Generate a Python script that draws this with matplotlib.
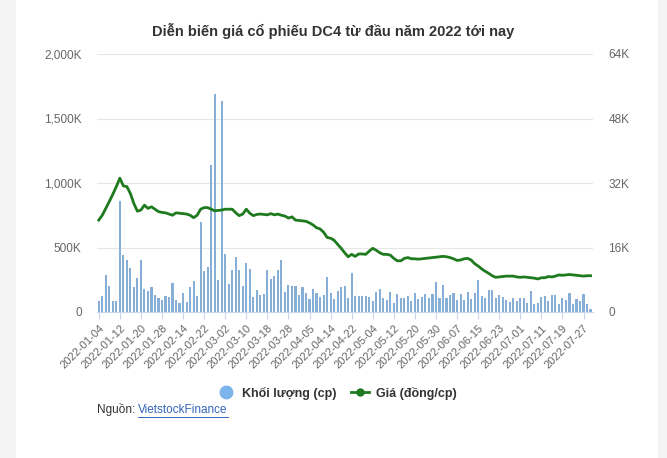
import matplotlib
matplotlib.use("Agg")
import matplotlib.pyplot as plt
from matplotlib.lines import Line2D
from matplotlib.patches import Rectangle
from matplotlib.ticker import FuncFormatter, MultipleLocator
import numpy as np
import pandas as pd

plt.rcParams["font.family"] = ["Liberation Sans", "DejaVu Sans"]

# ─── Data ─────────────────────────────────────────────────────────────────────
# trading days (weekdays minus market holidays)
holidays = ["2022-01-31", "2022-02-01", "2022-02-02", "2022-02-03", "2022-02-04",
            "2022-04-11", "2022-05-02", "2022-05-03"]
dates = pd.bdate_range("2022-01-04", "2022-07-29")
dates = dates[~dates.isin(pd.to_datetime(holidays))]
date_labels = [d.strftime("%Y-%m-%d") for d in dates]

# volume, thousand shares
volume = [
    83, 122, 285, 200, 83, 83, 860,
    440, 400, 340, 192, 262, 400,
    176, 163, 192, 130, 109, 93,
    122, 114, 223, 91, 67, 145,
    75, 192, 238, 122, 700, 319,
    345, 1140, 1692, 246, 1637, 448,
    215, 324, 425, 324, 200, 378,
    332, 114, 168, 130, 137, 324,
    254, 277, 324, 402, 153, 207,
    200, 200, 130, 192, 145, 98,
    176, 145, 114, 130, 270, 145,
    98, 160, 192, 200, 106, 300,
    122, 122, 127, 127, 117, 83,
    158, 176, 106, 91, 158, 73,
    137, 106, 111, 122, 83, 145,
    98, 119, 137, 106, 137, 230,
    106, 212, 106, 132, 148, 91,
    137, 91, 158, 98, 150, 246,
    122, 106, 168, 168, 106, 130,
    117, 91, 75, 111, 83, 109,
    106, 67, 160, 65, 67, 117,
    122, 83, 130, 130, 65, 106,
    91, 148, 60, 98, 86, 142,
    60, 23,
]

# price, thousand dong
price = [
    22.8, 24.0, 25.7, 27.4, 29.2, 31.1, 33.2,
    31.3, 31.1, 29.4, 26.9, 25.0, 25.3,
    26.5, 25.7, 26.1, 25.5, 24.9, 24.7,
    24.6, 24.3, 24.0, 24.6, 24.5, 24.4,
    24.3, 24.0, 23.4, 24.0, 25.5, 25.9,
    25.9, 25.5, 25.1, 25.2, 25.3, 25.5,
    25.5, 25.5, 24.6, 23.9, 24.3, 25.5,
    24.5, 23.9, 24.2, 24.3, 24.2, 24.1,
    24.4, 24.1, 24.3, 24.0, 23.8, 23.3,
    23.6, 22.8, 22.7, 22.6, 22.5, 22.1,
    21.6, 20.9, 20.6, 19.8, 18.5, 18.3,
    17.8, 16.8, 15.8, 14.7, 13.7, 14.3,
    13.8, 14.4, 14.4, 14.3, 15.1, 15.8,
    15.3, 14.7, 14.3, 14.3, 14.1, 13.3,
    12.7, 12.7, 13.3, 13.5, 13.2, 13.2,
    13.1, 13.2, 13.3, 13.4, 13.5, 13.6,
    13.7, 13.8, 13.7, 13.5, 13.2, 12.8,
    12.9, 13.2, 13.3, 12.9, 12.0, 11.4,
    10.7, 10.1, 9.6, 9.0, 8.6, 8.7,
    8.8, 8.9, 8.9, 8.9, 8.7, 8.6,
    8.7, 8.6, 8.5, 8.4, 8.2, 8.5,
    8.5, 8.8, 8.7, 8.9, 9.2, 9.1,
    9.2, 9.3, 9.2, 9.1, 9.0, 8.9,
    9.0, 9.0,
]

title = "Diễn biến giá cổ phiếu DC4 từ đầu năm 2022 tới nay"
vol_label = "Khối lượng (cp)"
price_label = "Giá (đồng/cp)"

# ─── Style ────────────────────────────────────────────────────────────────────
BAR_C = "#86aed6"
LINE_C = "#1e7a1e"
GRID_C = "#e6e6e6"
TXT_C = "#666666"

fig = plt.figure(figsize=(6.67, 4.58), dpi=100)
fig.patch.set_facecolor("white")
# grey page margins on both sides
fig.add_artist(Rectangle((0, 0), 16 / 667, 1, transform=fig.transFigure,
                         facecolor="#f3f3f3", edgecolor="none", zorder=-5))
fig.add_artist(Rectangle((658 / 667, 0), 9 / 667, 1, transform=fig.transFigure,
                         facecolor="#f3f3f3", edgecolor="none", zorder=-5))

ax1 = fig.add_axes([97 / 667, 1 - 312 / 458, 496 / 667, 258 / 458])
ax2 = ax1.twinx()

x = np.arange(len(volume))
ax1.bar(x, volume, width=0.6, color=BAR_C, edgecolor="none", zorder=2)
ax2.plot(x, price, color=LINE_C, lw=2.0, solid_joinstyle="round", zorder=3)

ax1.set_xlim(-0.5, len(volume) - 0.3)
ax1.set_ylim(0, 2000)
ax2.set_ylim(0, 64)
ax1.yaxis.set_major_locator(MultipleLocator(500))
ax2.yaxis.set_major_locator(MultipleLocator(16))
ax1.yaxis.set_major_formatter(FuncFormatter(lambda v, p: "0" if v == 0 else f"{int(v):,}K"))
ax2.yaxis.set_major_formatter(FuncFormatter(lambda v, p: "0" if v == 0 else f"{int(v)}K"))

ax1.grid(axis="y", color=GRID_C, lw=0.8, zorder=0)
ax1.set_axisbelow(True)

for ax in (ax1, ax2):
    for s in ("top", "left", "right"):
        ax.spines[s].set_visible(False)
    ax.spines["bottom"].set_color("#ccd6eb")
    ax.tick_params(axis="y", length=0, labelsize=8.5, colors=TXT_C)
ax2.spines["bottom"].set_visible(False)
ax1.tick_params(axis="y", pad=11)
ax2.tick_params(axis="y", pad=11)

tick_idx = list(range(0, len(date_labels), 6))
ax1.set_xticks(tick_idx)
ax1.set_xticklabels([date_labels[i] for i in tick_idx], rotation=45,
                    ha="right", rotation_mode="anchor", fontsize=8, color=TXT_C)
ax1.tick_params(axis="x", length=5, color="#ccd6eb", pad=3)

fig.text(0.5, 1 - 31 / 458, title, ha="center", va="center",
         fontsize=10.5, fontweight="bold", color="#333333")

handles = [
    Line2D([], [], ls="none", marker="o", ms=9, color="#7cb5ec"),
    Line2D([], [], color=LINE_C, lw=2, marker="o", ms=5),
]
fig.legend(handles, [vol_label, price_label], loc="center",
           bbox_to_anchor=(337 / 667, 1 - 393 / 458), ncol=2, frameon=False,
           prop={"size": 9, "weight": "bold"}, labelcolor="#333333",
           handlelength=1.4, columnspacing=1.2, handletextpad=0.6)

fig.text(97 / 667, 1 - 410 / 458, "Nguồn:", ha="left", va="center",
         fontsize=8.5, color="#333333")
fig.text(138 / 667, 1 - 410 / 458, "VietstockFinance", ha="left", va="center",
         fontsize=8.5, color="#3366bb")
fig.add_artist(Line2D([138 / 667, 228 / 667], [1 - 417 / 458] * 2,
                      transform=fig.transFigure, color="#3366bb", lw=0.7))

fig.savefig("out.png", dpi=100, facecolor=fig.get_facecolor())
